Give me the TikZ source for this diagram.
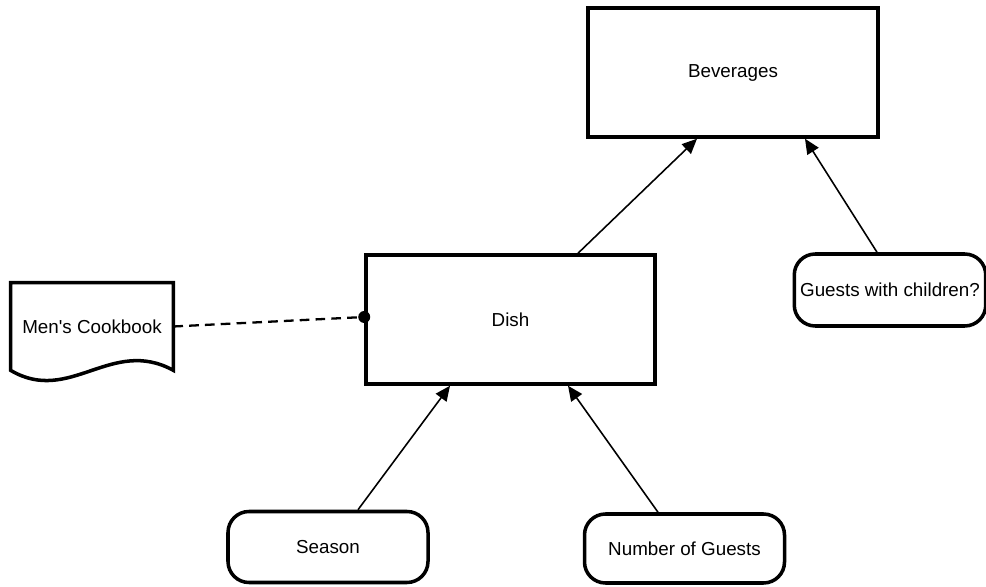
\documentclass[tikz,border=0pt]{standalone}
\usepackage{fontspec}
\setmainfont{Liberation Sans}
\usetikzlibrary{shapes,arrows.meta,positioning,calc}

\begin{document}
\begin{tikzpicture}[
    font=\fontsize{10.7}{13}\selectfont,
    box/.style={draw=black, line width=2pt, rectangle, text centered},
    pill/.style={draw=black, line width=2pt, rectangle, rounded corners=0.42cm, text centered, minimum width=4cm, minimum height=1.42cm},
    link/.style={black, line width=0.9pt, -{Triangle[length=8.5pt,width=7.5pt]}},
    ref/.style={black, line width=1.3pt, dash pattern=on 5.5pt off 3.5pt}
  ]
  \useasboundingbox (0,0) rectangle (19.72,11.72);

  %Defining nodes
  \node[box, minimum width=5.78cm, minimum height=2.58cm] (Dish) at (10.21,5.33) {Dish};

  \node[box, minimum width=5.8cm, minimum height=2.58cm, above of=Dish, xshift=4.45cm, yshift=3.94cm] (Beverages) {Beverages};

  \node[pill, below of=Dish, xshift=-3.65cm, yshift=-3.55cm] (Season) {Season};

  \node[pill, minimum height=1.38cm, below of=Dish, xshift=3.48cm, yshift=-3.58cm] (Guests) {Number of Guests};

  \node[pill, minimum width=3.8cm, minimum height=1.44cm, right of=Dish, xshift=6.59cm, yshift=0.59cm] (Children) {Guests with children?};

  \node[rectangle, minimum width=3.24cm, minimum height=1.74cm, inner sep=0pt, left of=Dish, xshift=-7.37cm, yshift=-0.14cm] (Cookbook) {Men\textquotesingle s Cookbook}; %document shape drawn below

  \coordinate (Port) at ($(Dish.west)+(0,0.05)$);

  %Drawing Diagram
  \draw[black, line width=2pt] (Cookbook.north west) -- (Cookbook.north east) -- (Cookbook.south east)
     .. controls ($(Cookbook.south east)+(-1.24,0.68)$) and ($(Cookbook.south west)+(1.18,-0.70)$) .. (Cookbook.south west) -- cycle;

  \draw[link] ($(Season.north)+(0.6,0)$) -- ($(Dish.south)+(-1.21,0)$);
  \draw[link] ($(Guests.north)+(-0.53,0)$) -- ($(Dish.south)+(1.15,0)$);
  \draw[link] ($(Dish.north)+(1.35,0)$) -- ($(Beverages.south)+(-0.72,0)$);
  \draw[link] ($(Children.north)+(-0.26,0)$) -- ($(Beverages.south)+(1.44,0)$);
  \draw[ref] (Cookbook.east) -- (Port);
  \fill[black] (Port) circle (0.12cm);
\end{tikzpicture}
\end{document}
